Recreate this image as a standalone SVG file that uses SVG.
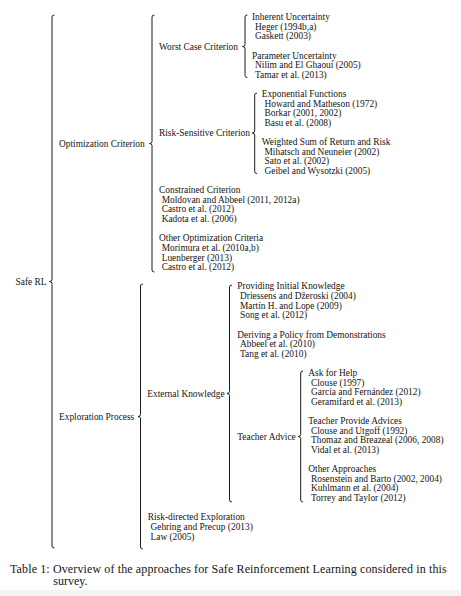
<svg xmlns="http://www.w3.org/2000/svg" width="461" height="596" viewBox="0 0 461 596">
<style>
.t{font-family:"Liberation Serif","Times New Roman",serif;font-size:9.4px;fill:#151515}
.cap{font-family:"Liberation Serif","Times New Roman",serif;font-size:12px;fill:#151515}
.br{fill:none;stroke:#1a1a1a;stroke-width:1;stroke-linecap:round;stroke-linejoin:round}
</style>
<rect x="0" y="0" width="461" height="596" fill="#ffffff"/>
<rect x="0" y="590" width="461" height="6" fill="#f4f4f4"/>
<g id="connectors">
<path class="br" d="M54,15 Q52,15 52,17 L52,279.5 Q52,281.5 49.5,281.5 Q52,281.5 52,283.5 L52,546 Q52,548 54,548"/>
<path class="br" d="M154,15 Q152,15 152,17 L152,141.5 Q152,143.5 149.5,143.5 Q152,143.5 152,145.5 L152,270 Q152,272 154,272"/>
<path class="br" d="M142.5,284 Q140.5,284 140.5,286 L140.5,414.5 Q140.5,416.5 138,416.5 Q140.5,416.5 140.5,418.5 L140.5,547 Q140.5,549 142.5,549"/>
<path class="br" d="M247,15 Q245,15 245,17 L245,44.5 Q245,46.5 242.5,46.5 Q245,46.5 245,48.5 L245,75.5 Q245,77.5 247,77.5"/>
<path class="br" d="M256.7,93 Q254.7,93 254.7,95 L254.7,131 Q254.7,133 252.2,133 Q254.7,133 254.7,135 L254.7,171.5 Q254.7,173.5 256.7,173.5"/>
<path class="br" d="M231.5,285 Q229.5,285 229.5,287 L229.5,391.5 Q229.5,393.5 227,393.5 Q229.5,393.5 229.5,395.5 L229.5,500 Q229.5,502 231.5,502"/>
<path class="br" d="M302.7,371 Q300.7,371 300.7,373 L300.7,434.5 Q300.7,436.5 298.2,436.5 Q300.7,436.5 300.7,438.5 L300.7,500 Q300.7,502 302.7,502"/>
</g>
<g id="safe-rl"><text class="t" x="15.5" y="284.5">Safe RL</text></g>
<g id="optimization-criterion"><text class="t" x="59" y="146.5">Optimization Criterion</text></g>
<g id="exploration-process"><text class="t" x="59" y="419.5">Exploration Process</text></g>
<g id="worst-case-criterion"><text class="t" x="159" y="49.5">Worst Case Criterion</text></g>
<g id="inherent-uncertainty">
<text class="t" x="252" y="20">Inherent Uncertainty</text>
<text class="t" x="255" y="29.6">Heger (1994b,a)</text>
<text class="t" x="255" y="39.2">Gaskett (2003)</text>
</g>
<g id="parameter-uncertainty">
<text class="t" x="252" y="58.5">Parameter Uncertainty</text>
<text class="t" x="255" y="68.1">Nilim and El Ghaoui (2005)</text>
<text class="t" x="255" y="77.7">Tamar et al. (2013)</text>
</g>
<g id="risk-sensitive-criterion"><text class="t" x="159" y="136">Risk-Sensitive Criterion</text></g>
<g id="exponential-functions">
<text class="t" x="261.7" y="97">Exponential Functions</text>
<text class="t" x="264.5" y="106.6">Howard and Matheson (1972)</text>
<text class="t" x="264.5" y="116.2">Borkar (2001, 2002)</text>
<text class="t" x="264.5" y="125.8">Basu et al. (2008)</text>
</g>
<g id="weighted-sum">
<text class="t" x="261.7" y="145.1">Weighted Sum of Return and Risk</text>
<text class="t" x="264.5" y="154.7">Mihatsch and Neuneier (2002)</text>
<text class="t" x="264.5" y="164.3">Sato et al. (2002)</text>
<text class="t" x="264.5" y="173.9">Geibel and Wysotzki (2005)</text>
</g>
<g id="constrained-criterion">
<text class="t" x="159" y="193.2">Constrained Criterion</text>
<text class="t" x="161.7" y="202.8">Moldovan and Abbeel (2011, 2012a)</text>
<text class="t" x="161.7" y="212.4">Castro et al. (2012)</text>
<text class="t" x="161.7" y="222">Kadota et al. (2006)</text>
</g>
<g id="other-optimization-criteria">
<text class="t" x="159" y="241.3">Other Optimization Criteria</text>
<text class="t" x="161.7" y="250.9">Morimura et al. (2010a,b)</text>
<text class="t" x="161.7" y="260.5">Luenberger (2013)</text>
<text class="t" x="161.7" y="270.1">Castro et al. (2012)</text>
</g>
<g id="external-knowledge"><text class="t" x="147.3" y="396.5">External Knowledge</text></g>
<g id="providing-initial-knowledge">
<text class="t" x="237.3" y="289.4">Providing Initial Knowledge</text>
<text class="t" x="240" y="299">Driessens and Džeroski (2004)</text>
<text class="t" x="240" y="308.6">Martín H. and Lope (2009)</text>
<text class="t" x="240" y="318.2">Song et al. (2012)</text>
</g>
<g id="deriving-policy">
<text class="t" x="237.3" y="337.5">Deriving a Policy from Demonstrations</text>
<text class="t" x="240" y="347.1">Abbeel et al. (2010)</text>
<text class="t" x="240" y="356.7">Tang et al. (2010)</text>
</g>
<g id="teacher-advice"><text class="t" x="237.3" y="439.5">Teacher Advice</text></g>
<g id="ask-for-help">
<text class="t" x="308.3" y="375.9">Ask for Help</text>
<text class="t" x="311" y="385.6">Clouse (1997)</text>
<text class="t" x="311" y="395.2">García and Fernández (2012)</text>
<text class="t" x="311" y="404.8">Geramifard et al. (2013)</text>
</g>
<g id="teacher-provide-advices">
<text class="t" x="308.3" y="424">Teacher Provide Advices</text>
<text class="t" x="311" y="433.7">Clouse and Utgoff (1992)</text>
<text class="t" x="311" y="443.3">Thomaz and Breazeal (2006, 2008)</text>
<text class="t" x="311" y="452.9">Vidal et al. (2013)</text>
</g>
<g id="other-approaches">
<text class="t" x="308.3" y="472.1">Other Approaches</text>
<text class="t" x="311" y="481.8">Rosenstein and Barto (2002, 2004)</text>
<text class="t" x="311" y="491.4">Kuhlmann et al. (2004)</text>
<text class="t" x="311" y="501">Torrey and Taylor (2012)</text>
</g>
<g id="risk-directed-exploration">
<text class="t" x="147.7" y="520.2">Risk-directed Exploration</text>
<text class="t" x="150.5" y="529.9">Gehring and Precup (2013)</text>
<text class="t" x="150.5" y="539.5">Law (2005)</text>
</g>
<g id="caption">
<text class="cap" x="10" y="572.5" textLength="436.7" lengthAdjust="spacing">Table 1: Overview of the approaches for Safe Reinforcement Learning considered in this</text>
<text class="cap" x="53.3" y="585">survey.</text>
</g>
</svg>
